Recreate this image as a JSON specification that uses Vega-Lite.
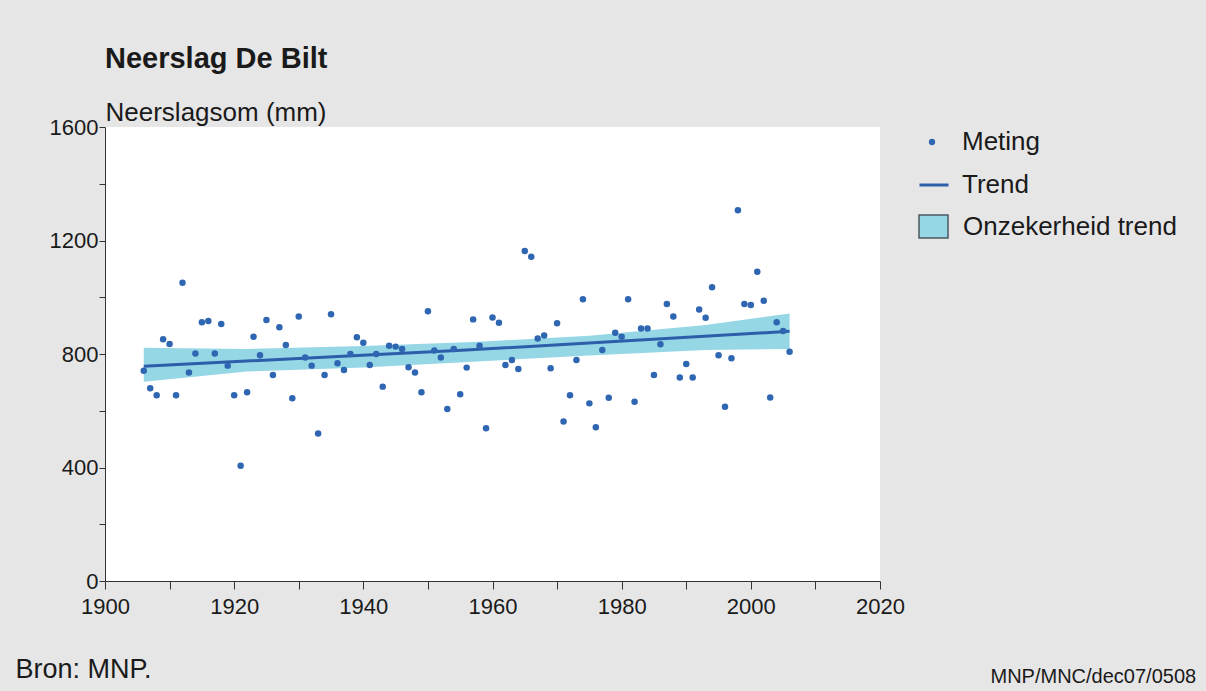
{
  "$schema": "https://vega.github.io/schema/vega-lite/v6.json",
  "autosize": {"type": "none"},
  "padding": {"left": 105, "top": 127, "right": 326, "bottom": 110},
  "width": 775,
  "height": 454,
  "background": "#e6e6e6",
  "title": {"text": "Neerslag De Bilt", "anchor": "start", "frame": "group", "offset": 25, "font": "Liberation Sans", "fontSize": 29, "fontWeight": "bold", "color": "#1a1a1a"},
  "config": {
    "font": "Liberation Sans",
    "view": {"fill": "white", "stroke": null},
    "axis": {"grid": false, "domainColor": "#333333", "tickColor": "#333333", "labelColor": "#1a1a1a", "titleColor": "#1a1a1a", "titleFontWeight": "normal"},
    "legend": {"title": null, "orient": "none", "padding": 0, "labelFont": "Liberation Sans", "labelFontSize": 26, "labelColor": "#1a1a1a", "labelLimit": 400, "symbolOpacity": 1}
  },
  "datasets": {
    "meting": [
      {"jaar": 1906, "neerslag": 741}, {"jaar": 1907, "neerslag": 679}, {"jaar": 1908, "neerslag": 655}, {"jaar": 1909, "neerslag": 852}, {"jaar": 1910, "neerslag": 835},
      {"jaar": 1911, "neerslag": 655}, {"jaar": 1912, "neerslag": 1051}, {"jaar": 1913, "neerslag": 735}, {"jaar": 1914, "neerslag": 802}, {"jaar": 1915, "neerslag": 912},
      {"jaar": 1916, "neerslag": 916}, {"jaar": 1917, "neerslag": 802}, {"jaar": 1918, "neerslag": 906}, {"jaar": 1919, "neerslag": 759}, {"jaar": 1920, "neerslag": 655},
      {"jaar": 1921, "neerslag": 406}, {"jaar": 1922, "neerslag": 665}, {"jaar": 1923, "neerslag": 861}, {"jaar": 1924, "neerslag": 796}, {"jaar": 1925, "neerslag": 920},
      {"jaar": 1926, "neerslag": 726}, {"jaar": 1927, "neerslag": 894}, {"jaar": 1928, "neerslag": 832}, {"jaar": 1929, "neerslag": 644}, {"jaar": 1930, "neerslag": 932},
      {"jaar": 1931, "neerslag": 788}, {"jaar": 1932, "neerslag": 759}, {"jaar": 1933, "neerslag": 520}, {"jaar": 1934, "neerslag": 726}, {"jaar": 1935, "neerslag": 940},
      {"jaar": 1936, "neerslag": 767}, {"jaar": 1937, "neerslag": 744}, {"jaar": 1938, "neerslag": 800}, {"jaar": 1939, "neerslag": 859}, {"jaar": 1940, "neerslag": 840},
      {"jaar": 1941, "neerslag": 761}, {"jaar": 1942, "neerslag": 800}, {"jaar": 1943, "neerslag": 685}, {"jaar": 1944, "neerslag": 829}, {"jaar": 1945, "neerslag": 826},
      {"jaar": 1946, "neerslag": 818}, {"jaar": 1947, "neerslag": 753}, {"jaar": 1948, "neerslag": 735}, {"jaar": 1949, "neerslag": 665}, {"jaar": 1950, "neerslag": 951},
      {"jaar": 1951, "neerslag": 812}, {"jaar": 1952, "neerslag": 788}, {"jaar": 1953, "neerslag": 606}, {"jaar": 1954, "neerslag": 818}, {"jaar": 1955, "neerslag": 658},
      {"jaar": 1956, "neerslag": 752}, {"jaar": 1957, "neerslag": 922}, {"jaar": 1958, "neerslag": 829}, {"jaar": 1959, "neerslag": 538}, {"jaar": 1960, "neerslag": 929},
      {"jaar": 1961, "neerslag": 910}, {"jaar": 1962, "neerslag": 761}, {"jaar": 1963, "neerslag": 779}, {"jaar": 1964, "neerslag": 747}, {"jaar": 1965, "neerslag": 1163},
      {"jaar": 1966, "neerslag": 1143}, {"jaar": 1967, "neerslag": 855}, {"jaar": 1968, "neerslag": 865}, {"jaar": 1969, "neerslag": 750}, {"jaar": 1970, "neerslag": 908},
      {"jaar": 1971, "neerslag": 562}, {"jaar": 1972, "neerslag": 655}, {"jaar": 1973, "neerslag": 779}, {"jaar": 1974, "neerslag": 993}, {"jaar": 1975, "neerslag": 626},
      {"jaar": 1976, "neerslag": 542}, {"jaar": 1977, "neerslag": 814}, {"jaar": 1978, "neerslag": 646}, {"jaar": 1979, "neerslag": 875}, {"jaar": 1980, "neerslag": 861},
      {"jaar": 1981, "neerslag": 993}, {"jaar": 1982, "neerslag": 632}, {"jaar": 1983, "neerslag": 890}, {"jaar": 1984, "neerslag": 890}, {"jaar": 1985, "neerslag": 726},
      {"jaar": 1986, "neerslag": 834}, {"jaar": 1987, "neerslag": 976}, {"jaar": 1988, "neerslag": 932}, {"jaar": 1989, "neerslag": 717}, {"jaar": 1990, "neerslag": 765},
      {"jaar": 1991, "neerslag": 717}, {"jaar": 1992, "neerslag": 957}, {"jaar": 1993, "neerslag": 928}, {"jaar": 1994, "neerslag": 1035}, {"jaar": 1995, "neerslag": 796},
      {"jaar": 1996, "neerslag": 614}, {"jaar": 1997, "neerslag": 785}, {"jaar": 1998, "neerslag": 1307}, {"jaar": 1999, "neerslag": 976}, {"jaar": 2000, "neerslag": 973},
      {"jaar": 2001, "neerslag": 1090}, {"jaar": 2002, "neerslag": 988}, {"jaar": 2003, "neerslag": 647}, {"jaar": 2004, "neerslag": 912}, {"jaar": 2005, "neerslag": 881},
      {"jaar": 2006, "neerslag": 808}
    ],
    "band": [
      {"jaar": 1906, "laag": 702, "hoog": 822},
      {"jaar": 1922, "laag": 738, "hoog": 818},
      {"jaar": 1940, "laag": 752, "hoog": 828},
      {"jaar": 1957, "laag": 773, "hoog": 842},
      {"jaar": 1975, "laag": 795, "hoog": 864},
      {"jaar": 1993, "laag": 814, "hoog": 902},
      {"jaar": 2006, "laag": 818, "hoog": 943}
    ],
    "lijn": [
      {"jaar": 1906, "trend": 757},
      {"jaar": 1956, "trend": 814},
      {"jaar": 2006, "trend": 880}
    ]
  },
  "resolve": {"axis": {"x": "independent"}},
  "layer": [
    {
      "data": {"name": "band"},
      "mark": {"type": "area", "opacity": 1},
      "encoding": {
        "x": {"field": "jaar", "type": "quantitative", "scale": {"domain": [1900, 2020], "nice": false, "zero": false}, "axis": null},
        "y": {"field": "laag", "type": "quantitative", "scale": {"domain": [0, 1600], "nice": false}, "title": "Neerslagsom (mm)"},
        "y2": {"field": "hoog"},
        "fill": {"datum": "Onzekerheid trend", "type": "nominal", "scale": {"range": ["#96d7e6"]},
          "legend": {"legendX": 813, "legendY": 84, "symbolType": "M-1,-0.8H1V0.8H-1Z", "symbolSize": 841, "symbolStrokeColor": "#4b5a60", "symbolStrokeWidth": 1.5, "symbolFillColor": "#96d7e6", "labelOffset": 14}}
      }
    },
    {
      "data": {"name": "lijn"},
      "mark": {"type": "line", "strokeWidth": 3},
      "encoding": {
        "x": {"field": "jaar", "type": "quantitative", "scale": {"domain": [1900, 2020], "nice": false, "zero": false},
          "axis": {"orient": "bottom", "domain": false, "ticks": false, "labels": false, "title": "MNP/MNC/dec07/0508", "titleX": 885, "titleY": 101, "titleAlign": "left", "titleBaseline": "alphabetic", "titleFont": "Liberation Sans", "titleFontSize": 20, "titleFontWeight": "normal"}},
        "y": {"field": "trend", "type": "quantitative", "scale": {"domain": [0, 1600], "nice": false}, "title": "Neerslagsom (mm)"},
        "stroke": {"datum": "Trend", "type": "nominal", "scale": {"range": ["#2c5ea9"]},
          "legend": {"legendX": 813, "legendY": 42, "symbolType": "stroke", "symbolSize": 841, "symbolStrokeWidth": 3, "labelOffset": 12}}
      }
    },
    {
      "data": {"name": "meting"},
      "mark": {"type": "point", "filled": true, "size": 42, "opacity": 1},
      "encoding": {
        "x": {"field": "jaar", "type": "quantitative", "scale": {"domain": [1900, 2020], "nice": false, "zero": false},
          "axis": {"orient": "bottom", "values": [1900, 1910, 1920, 1930, 1940, 1950, 1960, 1970, 1980, 1990, 2000, 2010, 2020],
            "labelExpr": "datum.value % 20 === 0 ? datum.label : ''", "format": "d", "tickSize": 8, "labelPadding": 7,
            "labelFont": "Liberation Sans", "labelFontSize": 22, "labelFlush": false,
            "title": "Bron: MNP.", "titleX": -90, "titleY": 96, "titleAlign": "left", "titleBaseline": "alphabetic", "titleFont": "Liberation Sans", "titleFontSize": 27}},
        "y": {"field": "neerslag", "type": "quantitative", "scale": {"domain": [0, 1600], "nice": false}, "title": "Neerslagsom (mm)",
          "axis": {"values": [0, 200, 400, 600, 800, 1000, 1200, 1400, 1600], "labelExpr": "datum.value % 400 === 0 ? datum.label : ''", "format": "d",
            "tickSize": 6, "labelPadding": 1, "labelFont": "Liberation Sans", "labelFontSize": 22, "labelFlush": false,
            "titleAngle": 0, "titleX": 0, "titleY": -7, "titleAlign": "left", "titleBaseline": "alphabetic", "titleFont": "Liberation Sans", "titleFontSize": 26}},
        "color": {"datum": "Meting", "type": "nominal", "scale": {"range": ["#2f66b1"]},
          "legend": {"legendX": 814, "legendY": 2, "symbolType": "circle", "symbolSize": 40, "labelOffset": 17}}
      }
    }
  ]
}
